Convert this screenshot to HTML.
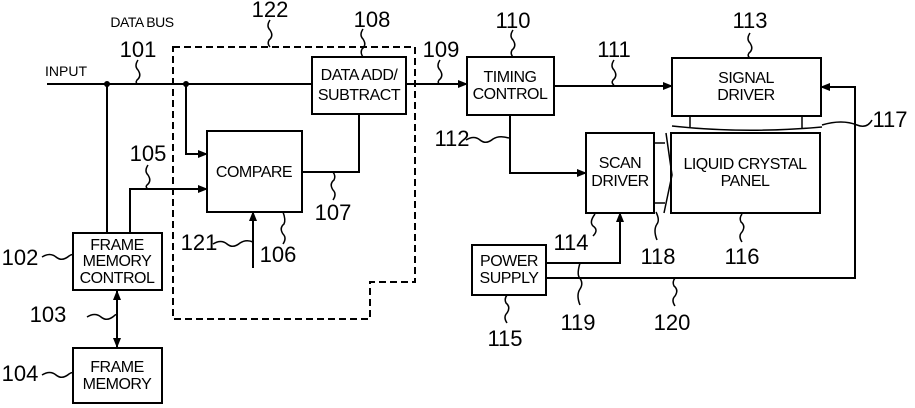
<!DOCTYPE html>
<html><head><style>
html,body{margin:0;padding:0;background:#fff;}
svg{display:block;}
text{font-family:"Liberation Sans",Arial,sans-serif;fill:#000;}
.n{font-size:22px;text-anchor:middle;}
.b{font-size:16px;text-anchor:middle;letter-spacing:-0.5px;}
</style></head><body>
<svg width="915" height="408" viewBox="0 0 915 408" xmlns="http://www.w3.org/2000/svg">
<defs><marker id="a" markerWidth="10" markerHeight="8" refX="9" refY="4" orient="auto-start-reverse" markerUnits="userSpaceOnUse"><path d="M0,0 L10,4 L0,8 z" fill="#000"/></marker></defs>
<g fill="none" stroke="#000" stroke-width="2">
<rect x="312" y="57" width="94" height="57"/>
<rect x="207" y="131" width="95" height="81"/>
<rect x="73" y="233" width="89" height="57"/>
<rect x="73" y="348" width="89" height="55"/>
<rect x="467" y="57" width="87" height="58"/>
<rect x="672" y="58" width="149" height="58"/>
<rect x="586" y="133" width="68" height="80"/>
<rect x="671" y="133" width="149" height="80"/>
<rect x="472" y="245" width="74" height="50"/>
<path d="M173,47 H415 V282 H370 V319 H173 Z" stroke-dasharray="7,4"/>
<path d="M47,84 H312"/>
<path d="M107,84 V233"/>
<path d="M130,233 V189 H207" marker-end="url(#a)"/>
<path d="M186,84 V154 H207" marker-end="url(#a)"/>
<path d="M302,172 H359 V114"/>
<path d="M253,268 V212" marker-end="url(#a)"/>
<path d="M117,291 V347" marker-end="url(#a)" marker-start="url(#a)"/>
<path d="M406,84 H467" marker-end="url(#a)"/>
<path d="M554,86 H672" marker-end="url(#a)"/>
<path d="M510,115 V173 H586" marker-end="url(#a)"/>
<path d="M546,263 H620 V213" marker-end="url(#a)"/>
<path d="M546,278 H855 V87 H821" marker-end="url(#a)"/>
<path d="M690,116 V128 M802,116 V128 M672,126 Q745,134 822,127" stroke-width="1.5"/>
<path d="M654,143 H665 M654,203 H665 M666,133 L672,175 L664,213" stroke-width="1.5"/>
</g>
<circle cx="107" cy="84" r="3"/><circle cx="186" cy="84" r="3"/>
<g fill="none" stroke="#000" stroke-width="1.5">
<path d="M270,20 q-4,6 0,10 q4,6 -1,10 q-2,4 1,7"/>
<path d="M363,29 q-4,6 0,10 q4,6 -1,10 q-2,4 1,8"/>
<path d="M138,60 q-4,6 0,10 q4,6 -1,10 q-2,3 1,4"/>
<path d="M440,60 q-4,6 0,10 q4,6 -1,10 q-2,3 1,4"/>
<path d="M513,30 q-4,6 0,10 q4,6 -1,10 q-2,4 1,7"/>
<path d="M614,60 q-4,6 0,10 q4,6 -1,10 q-2,3 1,5"/>
<path d="M750,33 q-4,6 0,10 q4,6 -1,10 q-2,3 1,5"/>
<path d="M148,165 q-4,6 0,10 q4,6 -1,10 q-2,2 1,4"/>
<path d="M333,200 q4,-6 0,-10 q-4,-6 1,-10 q2,-4 -1,-8"/>
<path d="M283,244 q4,-6 0,-10 q-4,-6 1,-10 q2,-4 -1,-12"/>
<path d="M466,140 q8,-5 14,0 q6,5 13,-1 q6,-4 16,-1"/>
<path d="M213,244 q8,-5 14,0 q6,5 13,-1 q6,-4 13,-1"/>
<path d="M42,257 q8,-5 14,0 q6,5 13,-1 q3,-2 4,-1"/>
<path d="M42,375 q8,-5 14,0 q6,5 13,-1 q3,-2 4,-1"/>
<path d="M87,317 q8,-5 14,0 q6,5 13,-1 q2,-2 3,-1"/>
<path d="M822,125 q20,-6 35,0 q10,4 15,-5"/>
<path d="M593,236 q6,-6 0,-10 q-4,-4 2,-12"/>
<path d="M657,240 q-4,-10 0,-16 q3,-4 -1,-12"/>
<path d="M742,242 q-4,-6 0,-10 q4,-6 -1,-10 q-2,-4 1,-8"/>
<path d="M507,323 q-4,-6 0,-10 q4,-6 -1,-10 q-2,-4 1,-8"/>
<path d="M580,305 q-4,-10 0,-16 q4,-6 -1,-12 q-2,-4 1,-14"/>
<path d="M675,306 q-4,-6 0,-10 q4,-6 -1,-10 q-2,-4 1,-8"/>
</g>
<text x="142" y="27" style="font-size:14px;text-anchor:middle;letter-spacing:-0.5px">DATA BUS</text>
<text x="66" y="76" style="font-size:14px;text-anchor:middle">INPUT</text>
<text class="n" x="270" y="17">122</text>
<text class="n" x="372" y="27">108</text>
<text class="n" x="138" y="57">101</text>
<text class="n" x="441" y="57">109</text>
<text class="n" x="513" y="28">110</text>
<text class="n" x="614" y="57">111</text>
<text class="n" x="750" y="28">113</text>
<text class="n" x="890" y="127">117</text>
<text class="n" x="452" y="146">112</text>
<text class="n" x="148" y="161">105</text>
<text class="n" x="333" y="220">107</text>
<text class="n" x="278" y="262">106</text>
<text class="n" x="199" y="250">121</text>
<text class="n" x="20" y="265">102</text>
<text class="n" x="48" y="322">103</text>
<text class="n" x="20" y="381">104</text>
<text class="n" x="571" y="250">114</text>
<text class="n" x="658" y="264">118</text>
<text class="n" x="742" y="264">116</text>
<text class="n" x="505" y="346">115</text>
<text class="n" x="578" y="330">119</text>
<text class="n" x="672" y="330">120</text>
<text class="b" x="359" y="80">DATA ADD/</text>
<text class="b" x="359" y="100">SUBTRACT</text>
<text class="b" x="254" y="177">COMPARE</text>
<text class="b" x="117" y="250">FRAME</text>
<text class="b" x="117" y="266">MEMORY</text>
<text class="b" x="117" y="283">CONTROL</text>
<text class="b" x="117" y="372">FRAME</text>
<text class="b" x="117" y="389">MEMORY</text>
<text class="b" x="510" y="82">TIMING</text>
<text class="b" x="510" y="99">CONTROL</text>
<text class="b" x="746" y="83">SIGNAL</text>
<text class="b" x="746" y="100">DRIVER</text>
<text class="b" x="620" y="168">SCAN</text>
<text class="b" x="620" y="186">DRIVER</text>
<text class="b" x="745" y="169">LIQUID CRYSTAL</text>
<text class="b" x="745" y="186">PANEL</text>
<text class="b" x="509" y="266">POWER</text>
<text class="b" x="509" y="283">SUPPLY</text>
</svg>
</body></html>
